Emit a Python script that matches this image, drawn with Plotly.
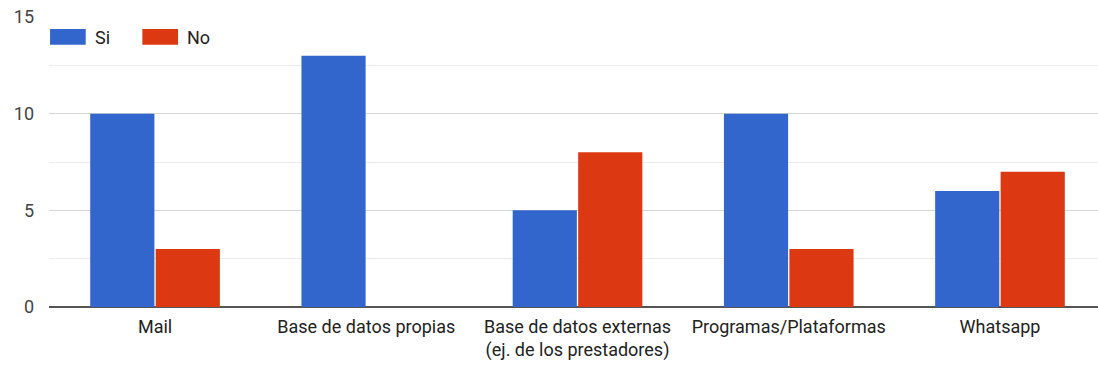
import plotly.graph_objects as go

categories = ["Mail", "Base de datos propias", "Base de datos externas<br>(ej. de los prestadores)",
              "Programas/Plataformas", "Whatsapp"]
si_values = [10, 13, 5, 10, 6]
no_values = [3, 0, 8, 3, 7]
y_tick_vals = [0, 5, 10, 15]
y_tick_text = ["0", "5", "10", "15"]
series_names = ["Si", "No"]
series_colors = ["#3366CC", "#DC3912"]

font_family = "Roboto, Arial, sans-serif"

fig = go.Figure()
for name, vals, color in zip(series_names, [si_values, no_values], series_colors):
    fig.add_trace(go.Bar(name=name, x=categories, y=vals, showlegend=False,
                         marker=dict(color=color, line=dict(width=0))))

# Legend drawn as wide swatches with labels, top-left inside the plot
swatch_x = [0.0, 0.088]
for name, color, x0 in zip(series_names, series_colors, swatch_x):
    fig.add_shape(type="rect", xref="paper", yref="paper",
                  x0=x0 + 0.001, x1=x0 + 0.035, y0=0.904, y1=0.959,
                  fillcolor=color, line=dict(width=0))
    fig.add_annotation(xref="paper", yref="paper", x=x0 + 0.042, y=0.931,
                       text=name, showarrow=False, xanchor="left", yanchor="middle",
                       font=dict(size=18, color="#222222"))

fig.update_layout(
    width=1098, height=367,
    margin=dict(l=49, r=0, t=17, b=60),
    paper_bgcolor="white", plot_bgcolor="white",
    barmode="group", bargap=0.38, bargroupgap=0.02,
    font=dict(family=font_family, size=18, color="#444444"),
    xaxis=dict(range=[-0.502, 4.464], showgrid=False, showline=False, zeroline=False,
               ticks="", ticklabelstandoff=7,
               tickfont=dict(size=18, color="#222222"), fixedrange=True),
    yaxis=dict(range=[0, 15], tickvals=y_tick_vals, ticktext=y_tick_text,
               showgrid=True, gridcolor="#d6d6d6", gridwidth=1,
               minor=dict(dtick=2.5, showgrid=True, gridcolor="#ececec", gridwidth=1),
               zeroline=True, zerolinecolor="#555555", zerolinewidth=2,
               ticks="", ticklabelstandoff=14, tickfont=dict(size=18, color="#444444")),
)

fig.write_html("out.html")
